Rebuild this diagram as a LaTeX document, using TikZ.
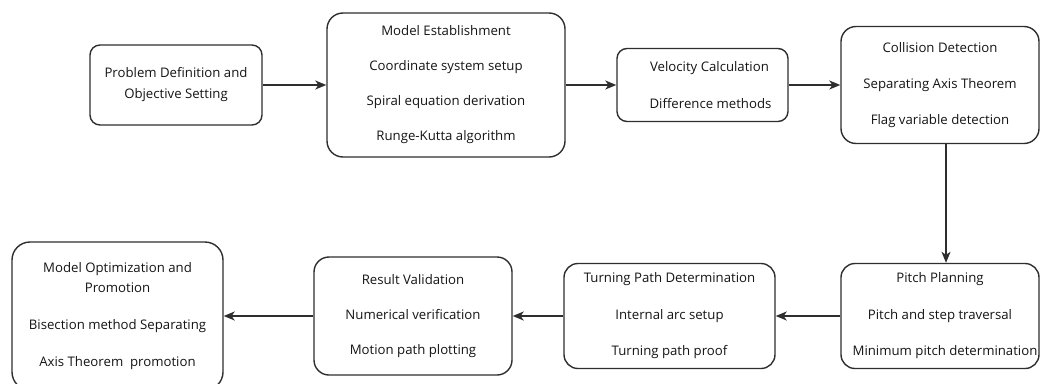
\documentclass[tikz,border=0pt]{standalone}
\usepackage{fontspec}
\setmainfont{Open Sans}
\usetikzlibrary{arrows.meta}
\definecolor{ln}{HTML}{2E2E2E}
\definecolor{tx}{HTML}{141414}
\tikzset{
  box/.style={draw=ln, line width=1.4pt, align=center, text=tx, inner sep=0pt,
    font=\fontsize{13.2}{35}\selectfont},
  arr/.style={draw=ln, line width=1.5pt, -{Stealth[length=11pt,width=9pt,inset=3pt]}}
}
\begin{document}
\begin{tikzpicture}[x=1pt,y=-1pt]
\useasboundingbox (0,0) rectangle (1040,383);
\node[box, rounded corners=10pt, minimum width=172pt, minimum height=80pt,
  font=\fontsize{13.2}{21}\selectfont] (b1) at (176,85)
  {Problem Definition and\\Objective Setting};
\node[box, rounded corners=16pt, minimum width=238pt, minimum height=144pt] (b2) at (446,85)
  {Model Establishment\\Coordinate system setup\\Spiral equation derivation\\Runge-Kutta algorithm};
\node[box, rounded corners=10pt, minimum width=171pt, minimum height=73pt,
  font=\fontsize{13.2}{37}\selectfont] (b3) at (702.5,85)
  {\hspace*{14pt}Velocity Calculation\\\hspace*{16pt}Difference methods};
\node[box, rounded corners=15pt, minimum width=198pt, minimum height=117pt,
  font=\fontsize{13.2}{36}\selectfont] (b4) at (940,85)
  {Collision Detection\\Separating Axis Theorem\\Flag variable detection};
\node[box, rounded corners=14pt, minimum width=198pt, minimum height=105pt,
  font=\fontsize{13.2}{36.5}\selectfont] (pitch) at (940,316)
  {Pitch Planning\\Pitch and step traversal\\\hspace*{10pt}Minimum pitch determination};
\node[box, rounded corners=14pt, minimum width=211pt, minimum height=105pt,
  font=\fontsize{13.2}{36.5}\selectfont] (turn) at (669.5,316)
  {Turning Path Determination\\Internal arc setup\\Turning path proof};
\node[box, rounded corners=15pt, minimum width=198pt, minimum height=118pt] (res) at (413,316)
  {Result Validation\\Numerical verification\\Motion path plotting};
\node[box, rounded corners=18pt, minimum width=211pt, minimum height=148pt,
  font=\fontsize{13.2}{20}\selectfont] (opt) at (117.5,316)
  {Model Optimization and\\Promotion\\[17pt]Bisection method Separating\\[17pt]Axis Theorem\ \ promotion};
\draw[arr] (b1.east) -- (b2.west);
\draw[arr] (b2.east) -- (b3.west);
\draw[arr] (b3.east) -- (b4.west);
\draw[arr] ([xshift=6pt]b4.south) -- ([xshift=6pt]pitch.north);
\draw[arr] (pitch.west) -- (turn.east);
\draw[arr] (turn.west) -- (res.east);
\draw[arr] (res.west) -- (opt.east);
\end{tikzpicture}
\end{document}
